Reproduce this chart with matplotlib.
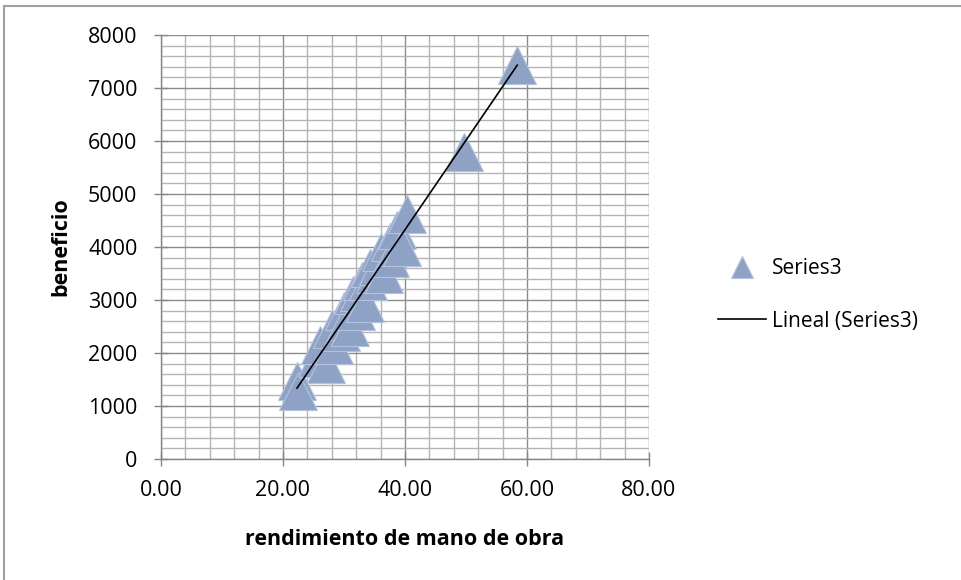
import numpy as np
import matplotlib.pyplot as plt
from matplotlib.lines import Line2D
from matplotlib.ticker import MultipleLocator, FormatStrFormatter

# values
rendimiento = [22.3, 22.5, 25.5, 26.0, 27.0, 28.0, 28.3, 29.5, 30.0, 30.3, 31.0,
               31.5, 32.0, 32.5, 33.0, 33.5, 34.0, 34.2, 35.0, 35.5, 36.0, 36.5,
               37.5, 37.6, 38.5, 38.7, 39.5, 40.3, 49.7, 58.4]
beneficio = [1470, 1280, 1900, 2150, 1800, 2450, 2150, 2400, 2800, 2600, 2500,
             3100, 2800, 3150, 3350, 2950, 3350, 3600, 3500, 3650, 3900, 3500,
             3800, 4100, 4000, 4320, 4000, 4620, 5800, 7430]
series_name = "Series3"
trend_name = "Lineal (Series3)"

plt.rcParams['font.family'] = ['Open Sans', 'DejaVu Sans']

fig = plt.figure(figsize=(9.61, 5.80), dpi=100)
ax = fig.add_axes([161/961, 1 - 459/580, (649 - 161)/961, (459 - 35)/580])

x = np.array(rendimiento)
y = np.array(beneficio)

ax.plot(x, y, linestyle='none', marker='^', markersize=27,
        markerfacecolor='#8EA2C6', markeredgecolor='#B4C3DD', markeredgewidth=0.8,
        label=series_name, zorder=3)

# linear trendline (least squares), drawn between min and max x
k, b = np.polyfit(x, y, 1)
xt = np.array([x.min(), x.max()])
ax.plot(xt, k * xt + b, color='black', lw=1.2, label=trend_name, zorder=4)

ax.set_xlim(0, 80)
ax.set_ylim(0, 8000)
ax.xaxis.set_major_locator(MultipleLocator(20))
ax.xaxis.set_minor_locator(MultipleLocator(4))
ax.yaxis.set_major_locator(MultipleLocator(1000))
ax.yaxis.set_minor_locator(MultipleLocator(200))
ax.xaxis.set_major_formatter(FormatStrFormatter('%.2f'))

ax.grid(which='major', color='#8C8C8C', lw=1.0)
ax.grid(which='minor', color='#B4B4B4', lw=1.0)
ax.set_axisbelow(True)

for s in ['top', 'right']:
    ax.spines[s].set_visible(False)
for s in ['left', 'bottom']:
    ax.spines[s].set_color('#868686')
    ax.spines[s].set_linewidth(1.0)

ax.tick_params(which='major', direction='inout', length=10, width=1.0, color='#868686',
               labelsize=15.5, labelcolor='black')
ax.tick_params(which='minor', length=0)
ax.tick_params(axis='x', pad=10)
ax.tick_params(axis='y', pad=12)

ax.set_xlabel('rendimiento de mano de obra', fontsize=15.5, fontweight='bold', labelpad=20)
ax.set_ylabel('beneficio', fontsize=15.5, fontweight='bold', labelpad=12)

ax.legend(loc='center left', bbox_to_anchor=(718/961, 1 - 295/580),
          bbox_transform=fig.transFigure, frameon=False, fontsize=15,
          markerscale=0.6, handlelength=2.3, handletextpad=0.3,
          labelspacing=1.5, borderpad=0, borderaxespad=0)

# outer chart frame (top and left edges visible)
fig.add_artist(Line2D([4/961, 4/961], [0, 1 - 6/580], color='#A0A0A0', lw=1.5,
                      transform=fig.transFigure))
fig.add_artist(Line2D([4/961, 1], [1 - 6/580, 1 - 6/580], color='#A0A0A0', lw=1.5,
                      transform=fig.transFigure))

fig.savefig('out.png', dpi=100)
